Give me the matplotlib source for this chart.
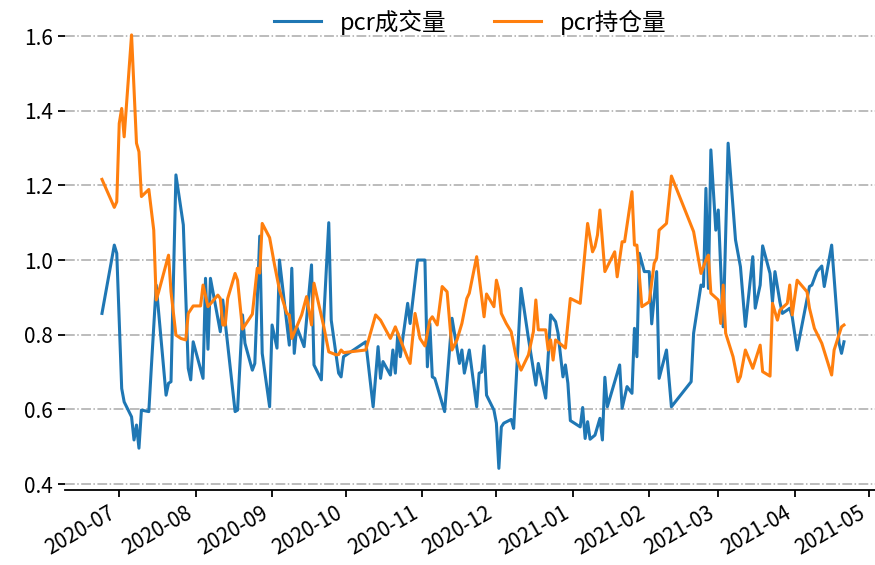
import matplotlib
matplotlib.use("Agg")
import matplotlib.pyplot as plt
import matplotlib.dates as mdates
import pandas as pd

plt.rcParams['font.family'] = ['Noto Sans CJK SC', 'DejaVu Sans']
plt.rcParams['axes.unicode_minus'] = False

# pcr成交量
vol_dates = [
    "2020-06-24", "2020-06-29", "2020-06-30", "2020-07-02", "2020-07-03", "2020-07-06", "2020-07-07",
    "2020-07-08", "2020-07-09", "2020-07-10", "2020-07-13", "2020-07-14", "2020-07-16", "2020-07-20",
    "2020-07-21", "2020-07-22", "2020-07-24", "2020-07-27", "2020-07-29", "2020-07-30", "2020-07-31",
    "2020-08-04", "2020-08-05", "2020-08-06", "2020-08-07", "2020-08-11", "2020-08-12", "2020-08-17",
    "2020-08-18", "2020-08-20", "2020-08-21", "2020-08-24", "2020-08-25", "2020-08-27", "2020-08-28",
    "2020-08-31", "2020-09-01", "2020-09-03", "2020-09-04", "2020-09-08", "2020-09-09", "2020-09-10",
    "2020-09-11", "2020-09-14", "2020-09-17", "2020-09-18", "2020-09-21", "2020-09-22", "2020-09-24",
    "2020-09-25", "2020-09-28", "2020-09-29", "2020-09-30", "2020-10-09", "2020-10-12", "2020-10-14",
    "2020-10-15", "2020-10-16", "2020-10-19", "2020-10-20", "2020-10-21", "2020-10-22", "2020-10-23",
    "2020-10-26", "2020-10-27", "2020-10-30", "2020-11-02", "2020-11-03", "2020-11-04", "2020-11-05",
    "2020-11-06", "2020-11-10", "2020-11-13", "2020-11-16", "2020-11-17", "2020-11-18", "2020-11-20",
    "2020-11-23", "2020-11-24", "2020-11-25", "2020-11-26", "2020-11-27", "2020-11-30", "2020-12-01",
    "2020-12-02", "2020-12-03", "2020-12-04", "2020-12-07", "2020-12-08", "2020-12-11", "2020-12-14",
    "2020-12-17", "2020-12-18", "2020-12-21", "2020-12-23", "2020-12-25", "2020-12-26", "2020-12-28",
    "2020-12-29", "2020-12-30", "2020-12-31", "2021-01-04", "2021-01-05", "2021-01-06", "2021-01-07",
    "2021-01-08", "2021-01-10", "2021-01-12", "2021-01-13", "2021-01-14", "2021-01-15", "2021-01-20",
    "2021-01-21", "2021-01-23", "2021-01-25", "2021-01-26", "2021-01-27", "2021-01-28", "2021-01-30",
    "2021-02-01", "2021-02-02", "2021-02-04", "2021-02-05", "2021-02-08", "2021-02-10", "2021-02-18",
    "2021-02-19", "2021-02-22", "2021-02-23", "2021-02-24", "2021-02-25", "2021-02-26", "2021-02-28",
    "2021-03-01", "2021-03-03", "2021-03-05", "2021-03-08", "2021-03-10", "2021-03-12", "2021-03-15",
    "2021-03-16", "2021-03-18", "2021-03-19", "2021-03-22", "2021-03-23", "2021-03-24", "2021-03-26",
    "2021-03-27", "2021-03-29", "2021-03-30", "2021-03-31", "2021-04-02", "2021-04-07", "2021-04-08",
    "2021-04-10", "2021-04-12", "2021-04-13", "2021-04-16", "2021-04-19", "2021-04-20", "2021-04-21",
]
vol_pcr = [
    0.857, 1.040, 1.018, 0.656, 0.620, 0.580, 0.518,
    0.558, 0.496, 0.598, 0.594, 0.710, 0.933, 0.638,
    0.670, 0.674, 1.228, 1.094, 0.710, 0.679, 0.781,
    0.683, 0.951, 0.761, 0.951, 0.808, 0.893, 0.594,
    0.598, 0.853, 0.777, 0.705, 0.723, 1.064, 0.750,
    0.607, 0.826, 0.764, 1.000, 0.772, 0.978, 0.750,
    0.821, 0.768, 0.987, 0.719, 0.679, 0.848, 1.100,
    0.839, 0.697, 0.687, 0.741, 0.781, 0.607, 0.768,
    0.683, 0.728, 0.692, 0.759, 0.697, 0.804, 0.741,
    0.884, 0.830, 1.000, 1.000, 0.714, 0.830, 0.687,
    0.683, 0.594, 0.844, 0.723, 0.759, 0.697, 0.759,
    0.607, 0.697, 0.700, 0.770, 0.638, 0.598, 0.563,
    0.442, 0.553, 0.563, 0.573, 0.549, 0.924, 0.790,
    0.665, 0.723, 0.630, 0.853, 0.835, 0.804, 0.687,
    0.719, 0.670, 0.570, 0.553, 0.605, 0.522, 0.567,
    0.520, 0.531, 0.576, 0.518, 0.686, 0.607, 0.719,
    0.603, 0.661, 0.643, 0.817, 0.741, 1.018, 0.969,
    0.969, 0.829, 0.969, 0.683, 0.759, 0.607, 0.674,
    0.804, 0.933, 0.929, 1.192, 0.924, 1.295, 1.080,
    1.134, 0.821, 1.313, 1.054, 0.982, 0.822, 1.009,
    0.871, 0.933, 1.038, 0.964, 0.888, 0.969, 0.888,
    0.857, 0.866, 0.871, 0.848, 0.759, 0.929, 0.933,
    0.969, 0.984, 0.929, 1.040, 0.777, 0.750, 0.781,
]

# pcr持仓量
oi_dates = [
    "2020-06-24", "2020-06-29", "2020-06-30", "2020-07-01", "2020-07-02", "2020-07-03", "2020-07-06",
    "2020-07-08", "2020-07-09", "2020-07-10", "2020-07-13", "2020-07-15", "2020-07-16", "2020-07-17",
    "2020-07-21", "2020-07-22", "2020-07-24", "2020-07-26", "2020-07-28", "2020-07-29", "2020-07-31",
    "2020-08-03", "2020-08-04", "2020-08-06", "2020-08-10", "2020-08-11", "2020-08-12", "2020-08-13",
    "2020-08-14", "2020-08-17", "2020-08-18", "2020-08-20", "2020-08-24", "2020-08-26", "2020-08-27",
    "2020-08-28", "2020-08-31", "2020-09-02", "2020-09-04", "2020-09-07", "2020-09-08", "2020-09-09",
    "2020-09-13", "2020-09-15", "2020-09-17", "2020-09-18", "2020-09-22", "2020-09-24", "2020-09-27",
    "2020-09-28", "2020-09-29", "2020-09-30", "2020-10-09", "2020-10-13", "2020-10-15", "2020-10-19",
    "2020-10-21", "2020-10-22", "2020-10-26", "2020-10-27", "2020-10-29", "2020-10-31", "2020-11-02",
    "2020-11-04", "2020-11-05", "2020-11-07", "2020-11-09", "2020-11-11", "2020-11-13", "2020-11-15",
    "2020-11-17", "2020-11-19", "2020-11-20", "2020-11-23", "2020-11-26", "2020-11-27", "2020-11-30",
    "2020-12-01", "2020-12-02", "2020-12-03", "2020-12-05", "2020-12-07", "2020-12-09", "2020-12-11",
    "2020-12-14", "2020-12-16", "2020-12-17", "2020-12-18", "2020-12-21", "2020-12-22", "2020-12-23",
    "2020-12-24", "2020-12-25", "2020-12-29", "2020-12-31", "2021-01-04", "2021-01-07", "2021-01-09",
    "2021-01-10", "2021-01-11", "2021-01-12", "2021-01-14", "2021-01-18", "2021-01-19", "2021-01-21",
    "2021-01-22", "2021-01-25", "2021-01-26", "2021-01-27", "2021-01-29", "2021-02-01", "2021-02-03",
    "2021-02-04", "2021-02-05", "2021-02-08", "2021-02-10", "2021-02-19", "2021-02-22", "2021-02-24",
    "2021-02-25", "2021-02-26", "2021-03-01", "2021-03-02", "2021-03-03", "2021-03-04", "2021-03-07",
    "2021-03-09", "2021-03-10", "2021-03-12", "2021-03-15", "2021-03-18", "2021-03-19", "2021-03-22",
    "2021-03-23", "2021-03-25", "2021-03-26", "2021-03-29", "2021-03-30", "2021-03-31", "2021-04-02",
    "2021-04-06", "2021-04-07", "2021-04-09", "2021-04-12", "2021-04-16", "2021-04-17", "2021-04-20",
    "2021-04-21",
]
oi_pcr = [
    1.216, 1.141, 1.156, 1.366, 1.406, 1.330, 1.603,
    1.313, 1.290, 1.170, 1.189, 1.080, 0.893, 0.915,
    1.013, 0.915, 0.799, 0.790, 0.786, 0.857, 0.877,
    0.877, 0.933, 0.875, 0.906, 0.897, 0.826, 0.826,
    0.897, 0.964, 0.946, 0.815, 0.855, 0.978, 0.965,
    1.098, 1.060, 0.987, 0.920, 0.857, 0.853, 0.790,
    0.853, 0.902, 0.826, 0.938, 0.821, 0.754, 0.746,
    0.747, 0.759, 0.752, 0.759, 0.853, 0.839, 0.790,
    0.821, 0.804, 0.737, 0.723, 0.857, 0.790, 0.770,
    0.839, 0.848, 0.826, 0.929, 0.915, 0.759, 0.786,
    0.830, 0.897, 0.911, 1.009, 0.848, 0.909, 0.875,
    0.946, 0.920, 0.857, 0.830, 0.808, 0.741, 0.705,
    0.746, 0.808, 0.893, 0.813, 0.813, 0.759, 0.786,
    0.732, 0.786, 0.764, 0.897, 0.884, 1.098, 1.022,
    1.036, 1.067, 1.134, 0.969, 1.022, 0.955, 1.049,
    1.049, 1.183, 1.040, 1.040, 0.875, 0.888, 0.991,
    1.005, 1.080, 1.098, 1.225, 1.076, 0.964, 1.000,
    1.013, 0.911, 0.893, 0.830, 0.933, 0.804, 0.741,
    0.674, 0.688, 0.759, 0.710, 0.772, 0.701, 0.689,
    0.884, 0.839, 0.866, 0.884, 0.933, 0.853, 0.946,
    0.915, 0.871, 0.817, 0.777, 0.692, 0.759, 0.821,
    0.826,
]

fig = plt.figure(figsize=(8.75, 5.65), dpi=100)
ax = fig.add_axes([65 / 875, 75 / 565, 810 / 875, 476 / 565])

ax.plot(pd.to_datetime(vol_dates), vol_pcr, color='#1f77b4', lw=2.2, label='pcr成交量')
ax.plot(pd.to_datetime(oi_dates), oi_pcr, color='#ff7f0e', lw=2.2, label='pcr持仓量')

ax.set_xlim(pd.Timestamp("2020-06-09"), pd.Timestamp("2021-05-03 14:00"))
ax.set_ylim(0.384, 1.659)
ax.set_yticks([0.4, 0.6, 0.8, 1.0, 1.2, 1.4, 1.6])

ax.xaxis.set_major_locator(mdates.MonthLocator())
ax.xaxis.set_major_formatter(mdates.DateFormatter('%Y-%m'))
for lbl in ax.get_xticklabels():
    lbl.set_rotation(30)
    lbl.set_ha('right')

ax.grid(axis='y', linestyle='-.', color='#aaaaaa', lw=1.1)
ax.grid(axis='x', visible=False)
for s in ['top', 'right', 'left']:
    ax.spines[s].set_visible(False)
ax.spines['bottom'].set_linewidth(1.3)
ax.tick_params(axis='both', labelsize=15, width=1.3, length=5, color='black')

ax.legend(loc='center', ncol=2, frameon=False, fontsize=17,
          bbox_to_anchor=(470 / 875, 1 - 22 / 565), bbox_transform=fig.transFigure)

fig.savefig('out.png', dpi=100)
